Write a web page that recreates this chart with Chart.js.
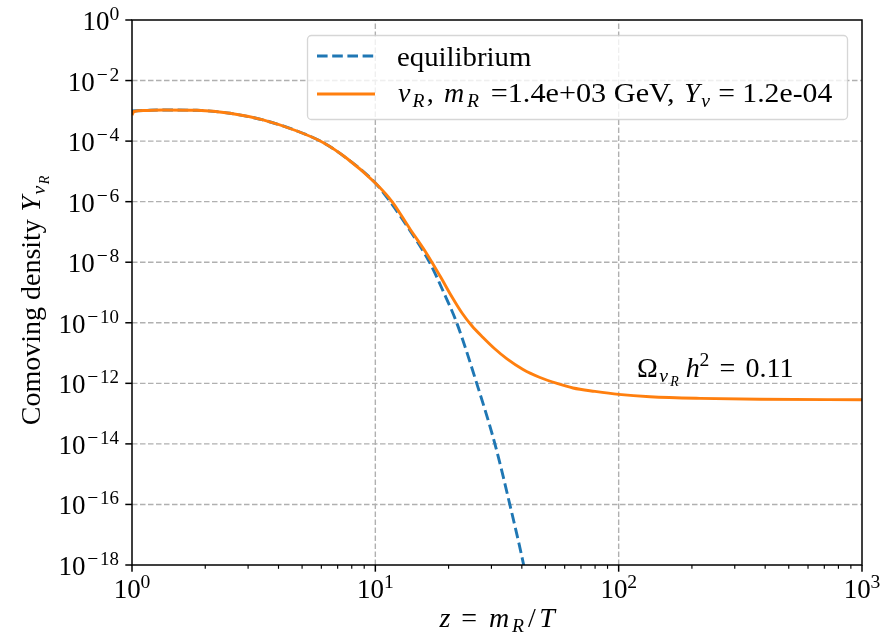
<!DOCTYPE html>
<html><head><meta charset="utf-8">
<script src="https://cdn.jsdelivr.net/npm/chart.js@4/dist/chart.umd.min.js"></script>
<style>html,body{margin:0;padding:0;background:#fff;}canvas{display:block;}</style>
</head><body>
<canvas id="c" width="884" height="639"></canvas>
<script>
// ---- data ----
const zEq = [1.0, 1.131, 1.341, 1.85, 2.527, 3.454, 4.765, 6.095, 7.648, 10, 11.5, 14.0, 16.7, 19.1, 21.6, 26.1, 31.0, 35.7, 40.7, 45.5];
const yEq = [9.9e-4, 1.03e-3, 1.07e-3, 1.04e-3, 8.3e-4, 5.0e-4, 2.16e-4, 9.0e-5, 2.67e-5, 4.14e-6, 1.0e-6, 1.0e-7, 1.0e-8, 1.0e-9, 1.0e-10, 1.0e-12, 1.0e-14, 1.0e-16, 1.0e-18, 1.0e-20];
const zNu = [1.0, 1.019, 1.131, 1.341, 1.85, 2.527, 3.454, 4.765, 6.095, 7.648, 10, 11.71, 13.88, 16.0, 18.45, 20.66, 22.71, 24.97, 27.7, 31.03, 34.76, 40.46, 47.51, 55.8, 64.92, 79.93, 100, 134.5, 215.9, 381, 1000];
const yNu = [7.3e-4, 9.5e-4, 1.03e-3, 1.07e-3, 1.04e-3, 8.3e-4, 5.0e-4, 2.16e-4, 9.0e-5, 2.67e-5, 4.14e-6, 1.01e-6, 1.25e-7, 2.35e-8, 3.5e-9, 7.1e-10, 2.1e-10, 7.8e-11, 3.27e-11, 1.36e-11, 6.4e-12, 2.87e-12, 1.56e-12, 9.9e-13, 7.0e-13, 5.4e-13, 4.3e-13, 3.6e-13, 3.18e-13, 2.98e-13, 2.87e-13];
const xMajor = [1, 10, 100, 1000];
const xMajorExp = ['0', '1', '2', '3'];
const xMinor = [2,3,4,5,6,7,8,9,20,30,40,50,60,70,80,90,200,300,400,500,600,700,800,900];
const yMajor = [1, 1e-2, 1e-4, 1e-6, 1e-8, 1e-10, 1e-12, 1e-14, 1e-16, 1e-18];
const yMajorExp = ['0', '2', '4', '6', '8', '10', '12', '14', '16', '18'];
const legendLabels = ['equilibrium', '=1.4e+03 GeV, ', ' = 1.2e-04'];

const FAM = '"Liberation Serif", "Times New Roman", serif';
const F = 28, FS = 19.6, FSS = 14;   // draw sizes
const EM = 27, EMS = 18.9, EMSS = 13.5; // advance basis
const C_BLUE = '#1f77b4', C_ORANGE = '#ff7f0e';

function fontOf(s){ return (s.i ? 'italic ' : '') + (s.s || F) + 'px ' + FAM; }
function rich(ctx, segs, x, y, align){
  let w = 0;
  for (const s of segs){ ctx.font = fontOf(s); s.nw = ctx.measureText(s.t).width; s.adv = (s.a != null) ? s.a : s.nw; w += s.adv; }
  let cx = align === 'center' ? x - w/2 : (align === 'right' ? x - w : x);
  ctx.textAlign = 'left'; ctx.textBaseline = 'alphabetic'; ctx.fillStyle = '#000';
  for (const s of segs){
    ctx.font = fontOf(s);
    const n = [...s.t].length;
    if (s.a != null && n > 1 && s.nw > 0){
      const k = Math.min(1.08, s.adv / s.nw);
      const off = (s.adv - s.nw * k) / 2;
      ctx.save(); ctx.translate(cx + off, y + (s.dy || 0)); ctx.scale(k, 1);
      ctx.fillText(s.t, 0, 0); ctx.restore();
    } else {
      const off = (s.a != null && !s.l) ? (s.adv - s.nw)/2 : 0;
      ctx.fillText(s.t, cx + off + (s.dx || 0), y + (s.dy || 0));
    }
    cx += s.adv;
  }
  return w;
}

const deco = {
  id: 'deco',
  beforeDatasetsDraw(chart){
    const ctx = chart.ctx, a = chart.chartArea, xs = chart.scales.x, ys = chart.scales.y;
    ctx.save();
    ctx.strokeStyle = '#b0b0b0'; ctx.lineWidth = 1.4; ctx.setLineDash([5.5, 2.5]);
    for (const v of xMajor){ const p = xs.getPixelForValue(v); if (p <= a.left+1 || p >= a.right-1) continue;
      ctx.beginPath(); ctx.moveTo(p, a.bottom); ctx.lineTo(p, a.top); ctx.stroke(); }
    for (const v of yMajor){ const p = ys.getPixelForValue(v); if (p <= a.top+1 || p >= a.bottom-1) continue;
      ctx.beginPath(); ctx.moveTo(a.left, p); ctx.lineTo(a.right, p); ctx.stroke(); }
    ctx.restore();
  },
  afterDatasetsDraw(chart){
    const ctx = chart.ctx, a = chart.chartArea, xs = chart.scales.x, ys = chart.scales.y;
    ctx.save();
    ctx.setLineDash([]); ctx.strokeStyle = '#000'; ctx.lineWidth = 1.5;
    ctx.strokeRect(a.left, a.top, a.right - a.left, a.bottom - a.top);
    for (const v of xMajor){ const p = xs.getPixelForValue(v);
      ctx.lineWidth = 1.5; ctx.beginPath(); ctx.moveTo(p, a.bottom); ctx.lineTo(p, a.bottom + 6.7); ctx.stroke(); }
    for (const v of xMinor){ const p = xs.getPixelForValue(v);
      ctx.lineWidth = 1.15; ctx.beginPath(); ctx.moveTo(p, a.bottom); ctx.lineTo(p, a.bottom + 3.8); ctx.stroke(); }
    for (const v of yMajor){ const p = ys.getPixelForValue(v);
      ctx.lineWidth = 1.5; ctx.beginPath(); ctx.moveTo(a.left, p); ctx.lineTo(a.left - 6.7, p); ctx.stroke(); }
    // x tick labels
    xMajor.forEach((v, i) => {
      const p = xs.getPixelForValue(v);
      rich(ctx, [{t:'10', a:EM}, {t:xMajorExp[i], s:FS, dy:-10, a:EMS*0.5*xMajorExp[i].length}], p, a.bottom + 33, 'center');
    });
    // y tick labels
    yMajor.forEach((v, i) => {
      const p = ys.getPixelForValue(v);
      const segs = [{t:'10', a:EM}];
      if (v !== 1) segs.push({t:'\u2212', s:FS, dy:-10, a:EMS*0.778});
      segs.push({t:yMajorExp[i], s:FS, dy:-10, a:EMS*0.5*yMajorExp[i].length});
      rich(ctx, segs, a.left - 13, p + 10, 'right');
    });
    // x axis title
    rich(ctx, [{t:'z', i:1, a:EM*0.465}, {t:'=', a:EM*1.334}, {t:'m', i:1, a:EM*0.878}, {t:'R', i:1, s:FS, dy:5, a:EMS*0.759},
               {t:'/', a:EM*0.5}, {t:'T', i:1, a:EM*0.62}], (a.left + a.right)/2, 627, 'center');
    // y axis title
    ctx.save(); ctx.translate(40, 300); ctx.rotate(-Math.PI/2);
    rich(ctx, [{t:'Comoving density '}, {t:'Y', i:1, a:EM*0.62}, {t:'\u03BD', i:1, s:FS, dy:5, a:EMS*0.55}, {t:'R', i:1, s:FSS, dy:9, a:EMSS*0.76}], 0, 0, 'center');
    ctx.restore();
    // annotation
    rich(ctx, [{t:'\u03A9', a:21}, {t:'\u03BD', i:1, s:FS, dy:5, a:11}, {t:'R', i:1, s:FSS, dy:9, a:11}, {t:'', a:6},
               {t:'h', i:1, a:13.5}, {t:'2', s:FS, dy:-11, a:10}, {t:'=', a:EM*1.334}, {t:'0.11', a:EM*1.778}], 637, 377, 'left');
    // legend
    const lx = 307.5, ly = 35.5, lw = 540, lh = 84;
    ctx.beginPath(); ctx.roundRect(lx, ly, lw, lh, 4);
    ctx.fillStyle = 'rgba(255,255,255,0.8)'; ctx.fill();
    ctx.strokeStyle = 'rgba(204,204,204,0.8)'; ctx.lineWidth = 1.3; ctx.stroke();
    ctx.lineWidth = 2.9; ctx.strokeStyle = C_BLUE; ctx.setLineDash([10.6, 4.6]);
    ctx.beginPath(); ctx.moveTo(317, 56); ctx.lineTo(375, 56); ctx.stroke();
    ctx.setLineDash([]); ctx.strokeStyle = C_ORANGE;
    ctx.beginPath(); ctx.moveTo(317, 94); ctx.lineTo(375, 94); ctx.stroke();
    rich(ctx, [{t:legendLabels[0], a:EM*4.977}], 397, 66, 'left');
    rich(ctx, [{t:'\u03BD', i:1, a:EM*0.53}, {t:'R', i:1, s:FS, dy:5, a:EMS*0.759}, {t:',', a:EM*0.611, l:1, dx:1},
               {t:'m', i:1, a:EM*0.878}, {t:'R', i:1, s:FS, dy:5, a:EMS*0.759}, {t:'', a:EM*0.333},
               {t:legendLabels[1], a:EM*7.2}, {t:'Y', i:1, a:EM*0.62}, {t:'\u03BD', i:1, s:FS, dy:5, a:EMS*0.55},
               {t:legendLabels[2], a:EM*4.5}], 397, 102, 'left');
    ctx.restore();
  }
};

const mk = (zs, ys) => zs.map((z, i) => ({x: z, y: ys[i]}));

new Chart(document.getElementById('c'), {
  type: 'line',
  data: {
    datasets: [
      { label: 'nuR', data: mk(zNu, yNu), borderColor: C_ORANGE, borderWidth: 2.9, pointRadius: 0,
        cubicInterpolationMode: 'monotone', fill: false },
      { label: 'equilibrium', data: mk(zEq, yEq), borderColor: C_BLUE, borderWidth: 2.9, pointRadius: 0,
        borderDash: [10.6, 4.6], cubicInterpolationMode: 'monotone', fill: false }
    ]
  },
  options: {
    responsive: false, animation: false, events: [], devicePixelRatio: 1,
    layout: { padding: { left: 132, right: 22, top: 20, bottom: 74 } },
    scales: {
      x: { type: 'logarithmic', min: 1, max: 1000, display: false },
      y: { type: 'logarithmic', min: 1e-18, max: 1, display: false }
    },
    plugins: { legend: { display: false }, tooltip: { enabled: false } }
  },
  plugins: [deco]
});
</script>
</body></html>
